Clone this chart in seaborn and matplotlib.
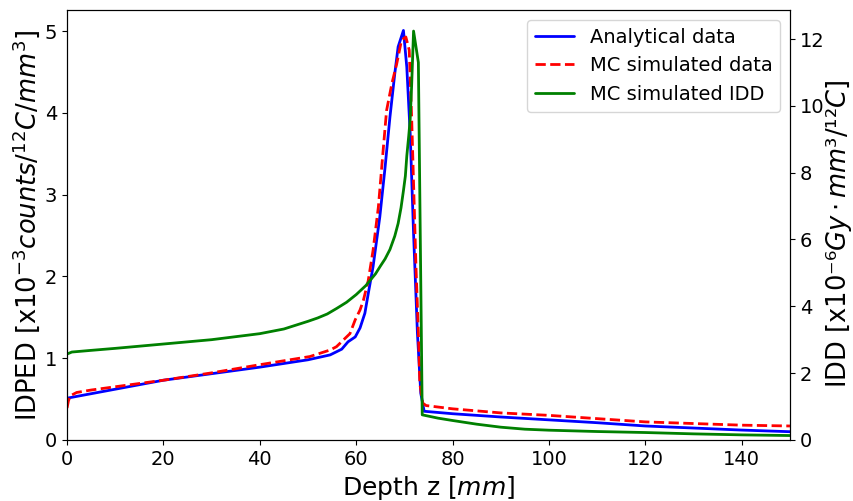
import numpy as np
import pandas as pd
import matplotlib
matplotlib.use("Agg")
import matplotlib.pyplot as plt
import seaborn as sns

# Analytical IDPED
ana_x = [0, 10, 20, 30, 40, 50, 54.6, 57.0, 58.3, 59.8, 60.8, 61.8, 62.5, 63.5, 64.9, 66.0,
         67.0, 68.0, 68.7, 69.8, 70.5, 71.2, 71.9, 72.7, 73.4, 74.1, 80, 90, 100, 110, 120,
         130, 140, 150]
ana_y = [0.51, 0.62, 0.73, 0.81, 0.89, 0.98, 1.04, 1.11, 1.20, 1.26, 1.37, 1.55, 1.79, 2.12,
         2.73, 3.34, 3.95, 4.48, 4.81, 5.01, 4.56, 3.75, 2.53, 1.31, 0.57, 0.35, 0.32, 0.28,
         0.245, 0.21, 0.17, 0.145, 0.12, 0.10]

# MC simulated IDPED
mc_x = [0, 0.3, 0.7, 2, 5, 10, 20, 30, 40, 50.4, 54.6, 55.9, 57.3, 58.7, 59.8, 60.8, 61.5,
        62.5, 63.5, 64.6, 65.6, 66.3, 67.4, 68.4, 69.4, 70.3, 71.0, 71.5, 71.9, 72.4, 72.9,
        73.2, 73.8, 74.5, 80, 90, 100, 110, 120, 130, 140, 150]
mc_y = [0.39, 0.48, 0.54, 0.58, 0.61, 0.65, 0.73, 0.82, 0.92, 1.02, 1.10, 1.14, 1.22, 1.30,
        1.47, 1.59, 1.71, 1.95, 2.32, 2.85, 3.55, 4.03, 4.36, 4.60, 4.89, 4.93, 4.77, 3.95,
        3.14, 2.12, 1.31, 0.69, 0.45, 0.42, 0.38, 0.33, 0.30, 0.26, 0.22, 0.20, 0.18, 0.17]

# MC simulated IDD (right axis)
idd_x = [0, 1, 5, 10, 20, 30, 40, 45, 50, 52, 54, 56, 58, 60, 62, 64, 65, 66, 67, 68, 68.7,
         69.3, 69.8, 70.2, 70.5, 70.9, 71.2, 71.5, 71.9, 72.9, 73.7, 77, 80, 85, 90, 95, 100,
         110, 120, 130, 140, 150]
idd_y = [2.57, 2.63, 2.68, 2.74, 2.87, 3.0, 3.18, 3.32, 3.55, 3.65, 3.77, 3.94, 4.12, 4.35,
         4.62, 4.97, 5.2, 5.42, 5.7, 6.1, 6.48, 6.95, 7.46, 7.9, 8.5, 9.1, 9.6, 10.6, 12.24,
         11.3, 0.75, 0.65, 0.58, 0.47, 0.38, 0.32, 0.29, 0.25, 0.22, 0.18, 0.15, 0.13]

labels = ["Analytical data", "MC simulated data", "MC simulated IDD"]

sns.set_style("ticks", rc={"text.color": "black", "axes.labelcolor": "black",
                           "xtick.color": "black", "ytick.color": "black",
                           "axes.edgecolor": "black"})
plt.rcParams["font.family"] = ["DejaVu Sans"]
plt.rcParams["mathtext.fontset"] = "dejavusans"

fig, ax = plt.subplots(figsize=(8.54, 5.01), dpi=100)
fig.subplots_adjust(left=0.0785, right=0.925, top=0.98, bottom=0.122)

df_a = pd.DataFrame({"z": ana_x, "v": ana_y})
df_m = pd.DataFrame({"z": mc_x, "v": mc_y})
df_i = pd.DataFrame({"z": idd_x, "v": idd_y})

sns.lineplot(data=df_a, x="z", y="v", ax=ax, color="blue", lw=2, label=labels[0],
             sort=False, estimator=None)
sns.lineplot(data=df_m, x="z", y="v", ax=ax, color="red", lw=2, label=labels[1],
             sort=False, estimator=None, linestyle="--")
ax2 = ax.twinx()
sns.lineplot(data=df_i, x="z", y="v", ax=ax2, color="green", lw=2, label=labels[2],
             sort=False, estimator=None)

ax.set_xlim(0, 150)
ax.set_ylim(0, 5.26)
ax2.set_ylim(0, 12.87)

ax.set_xlabel(r"Depth z [$mm$]", fontsize=18)
ax.set_ylabel(r"IDPED [x10$^{-3}$$counts/^{12}C/mm^{3}$]", fontsize=18.5, labelpad=2)
ax2.set_ylabel("IDD [x10\u207b\u2076$Gy\\cdot mm$\u00b3/\u00b9\u00b2$C$]", fontsize=18.5)
ax2.yaxis.set_label_coords(1.047, 0.48)
ax.tick_params(labelsize=14, colors="black")
ax2.tick_params(labelsize=14, colors="black")

h1, l1 = ax.get_legend_handles_labels()
h2, l2 = ax2.get_legend_handles_labels()
if ax2.get_legend() is not None:
    ax2.get_legend().remove()
ax.get_legend().remove()
leg = ax2.legend(h1 + h2, l1 + l2, loc="upper right", fontsize=14)
for t in leg.get_texts():
    t.set_color("black")

for a in (ax, ax2):
    for s in a.spines.values():
        s.set_visible(True)
        s.set_color("black")

fig.savefig("out.png", dpi=100)
